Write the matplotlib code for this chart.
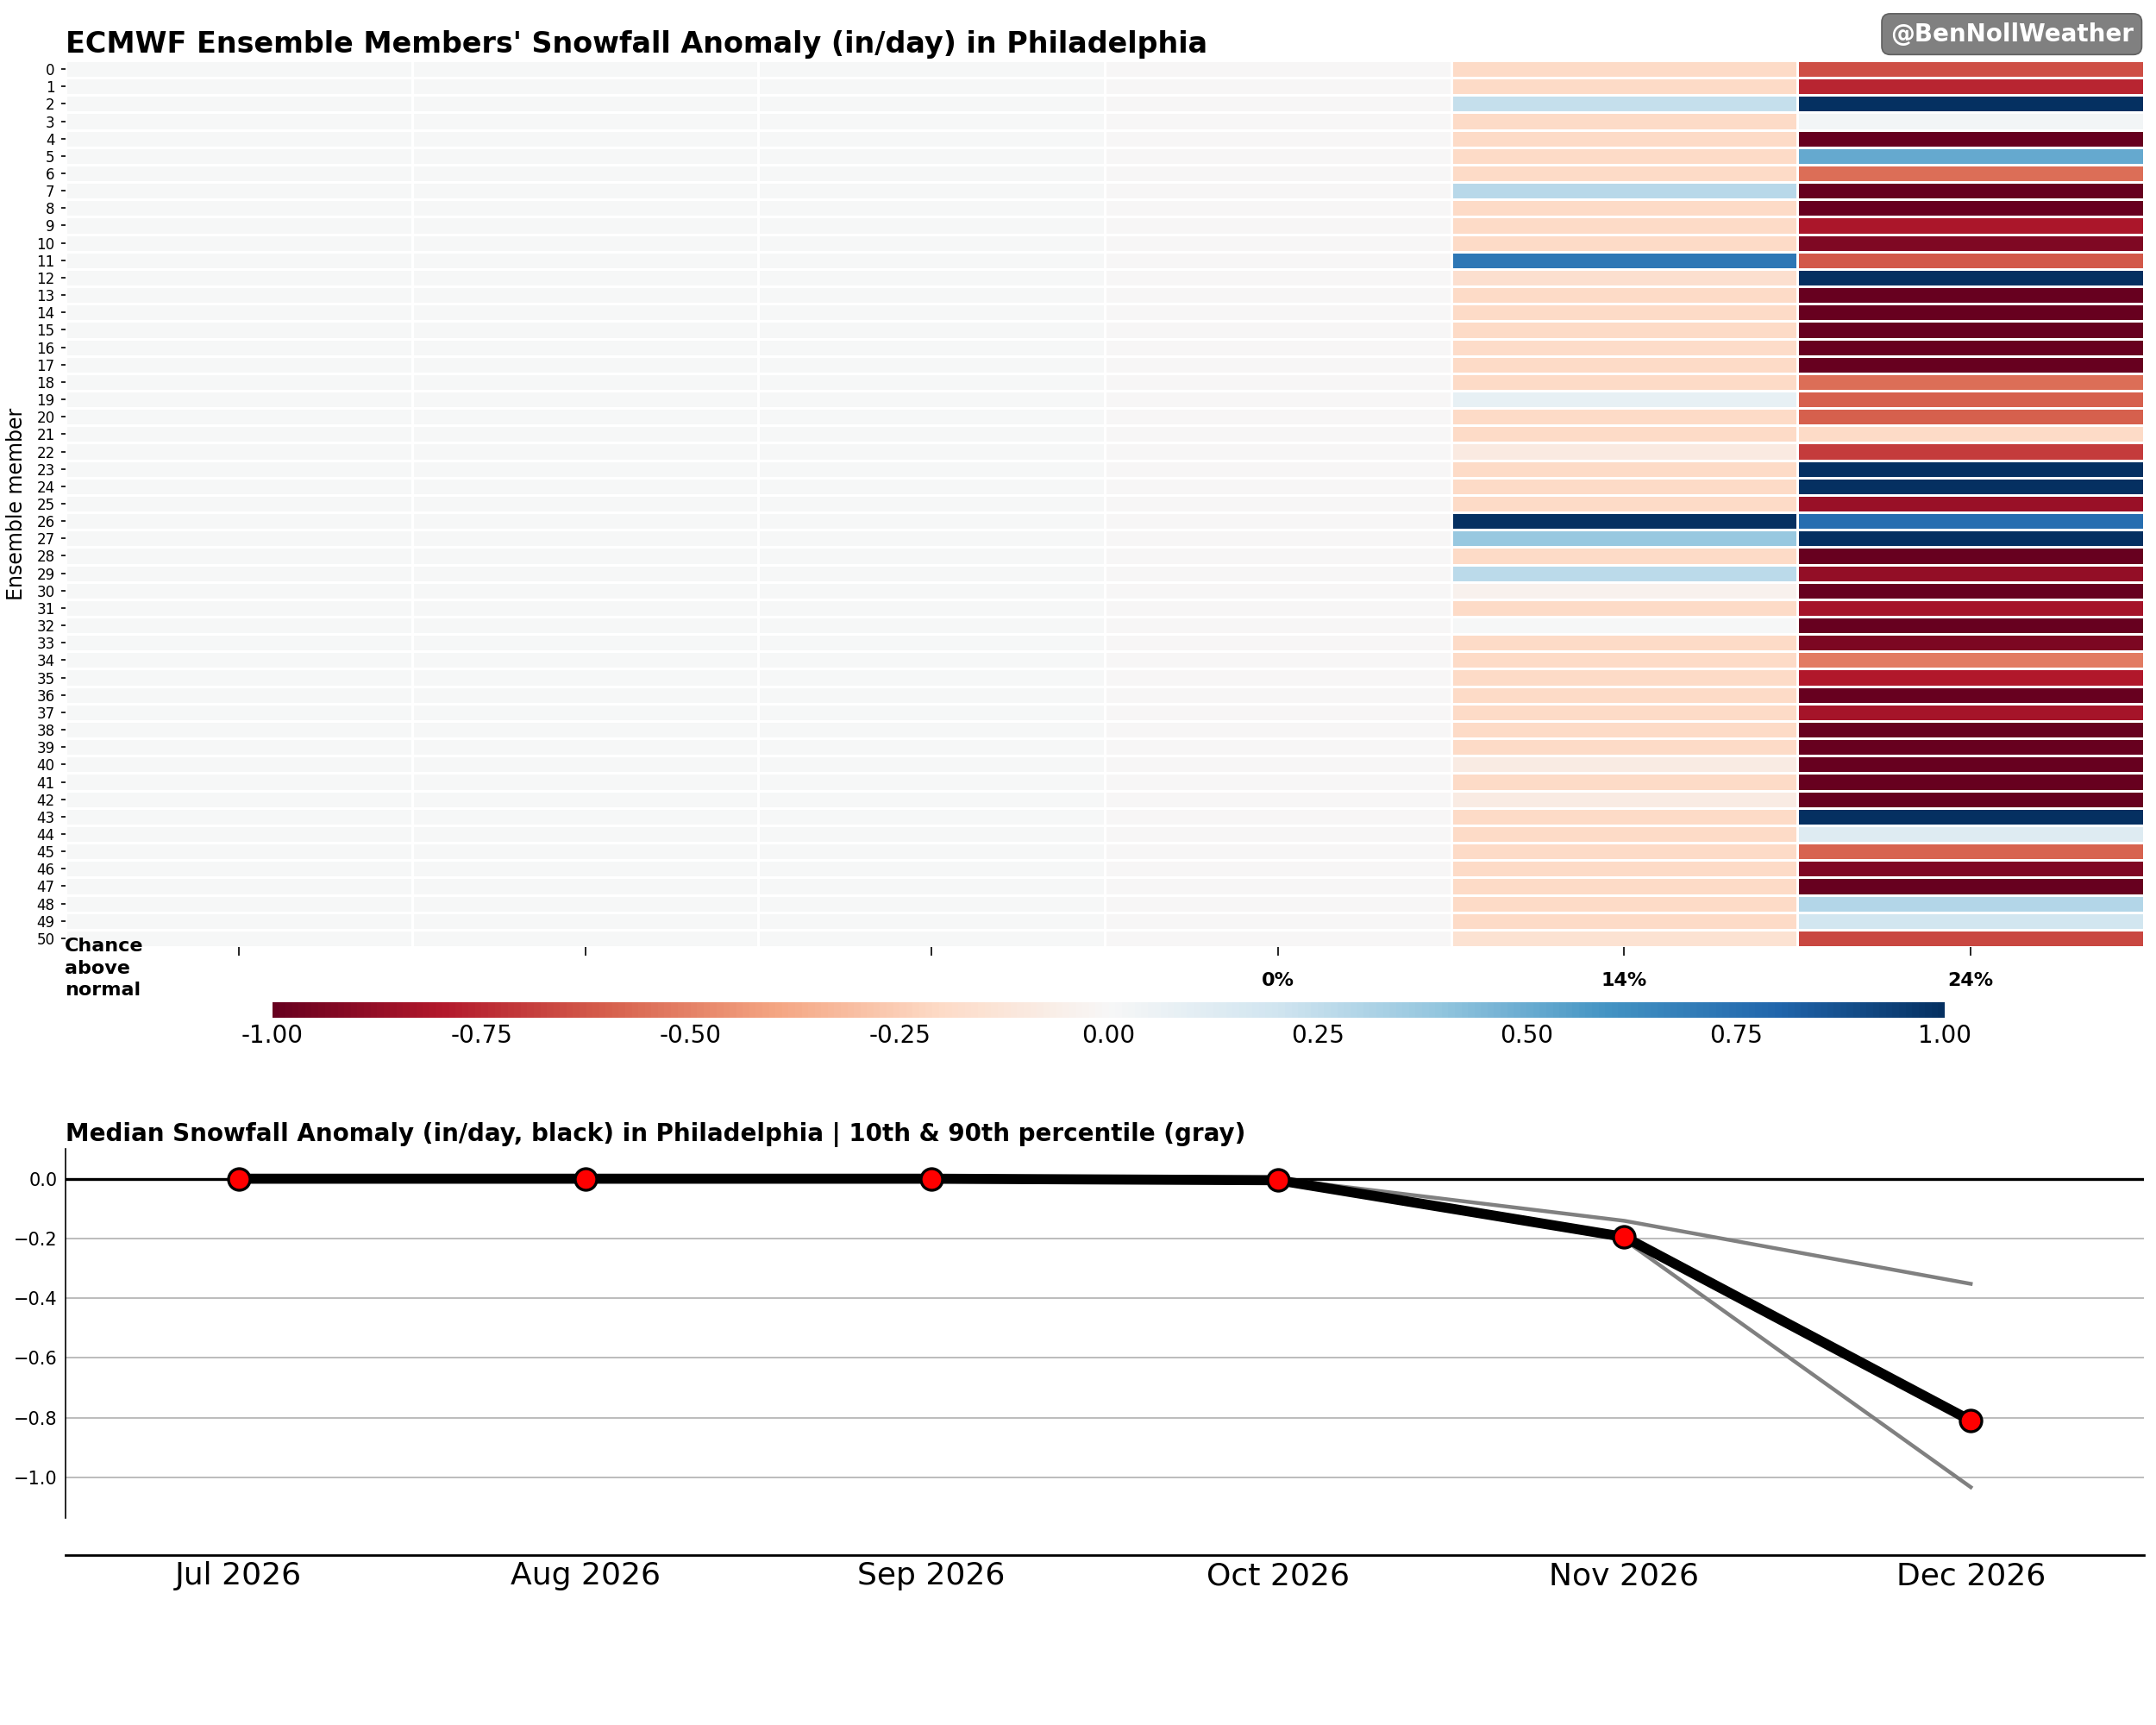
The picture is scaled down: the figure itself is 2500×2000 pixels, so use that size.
import numpy as np
import matplotlib
matplotlib.use("Agg")
from matplotlib import pyplot as plt

# months shown on both panels
months = ['Jul 2026', 'Aug 2026', 'Sep 2026', 'Oct 2026', 'Nov 2026', 'Dec 2026']
chance_labels = ['', '', '', '0%', '14%', '24%']

# snowfall anomaly (in/day) per ensemble member, Nov and Dec (Jul-Oct ~ 0)
nov = [-0.2, -0.2, 0.24, -0.2, -0.2, -0.2, -0.2, 0.28, -0.2, -0.2,
       -0.2, 0.72, -0.17, -0.2, -0.2, -0.2, -0.19, -0.2, -0.2, 0.08,
       -0.2, -0.2, -0.09, -0.2, -0.2, -0.2, 1.0, 0.38, -0.2, 0.27,
       -0.04, -0.2, 0.0, -0.2, -0.2, -0.2, -0.2, -0.2, -0.2, -0.2,
       -0.08, -0.2, -0.08, -0.2, -0.2, -0.2, -0.2, -0.2, -0.2, -0.2,
       -0.15]
dec = [-0.645, -0.76, 1.0, 0.03, -1.0, 0.51, -0.555, -1.0, -1.0, -0.82,
       -0.935, -0.62, 1.0, -1.0, -1.0, -1.0, -1.0, -1.0, -0.555, -0.6,
       -0.6, -0.2, -0.7, 1.0, 1.0, -0.86, 0.76, 1.0, -1.0, -0.88,
       -1.0, -0.83, -1.0, -0.94, -0.52, -0.8, -1.0, -0.83, -1.0, -1.0,
       -1.0, -1.0, -1.0, 1.0, 0.13, -0.59, -0.93, -1.0, 0.29, 0.19,
       -0.67]
jul = [0.0] * 51
aug = [0.0] * 51
sep = [0.0] * 51
octo = [-0.005] * 51

# median and 10th / 90th percentile
median = [0.0, 0.0, 0.0, -0.005, -0.195, -0.81]
p90 = [0.0, 0.0, 0.0, 0.0, -0.141, -0.352]
p10 = [0.0, 0.0, 0.0, -0.005, -0.205, -1.033]

data = np.array([jul, aug, sep, octo, nov, dec]).T
members = np.arange(data.shape[0])
x = np.arange(len(months))

fig = plt.figure(figsize=(12.5, 10), dpi=200)

# heatmap
ax = fig.add_axes([0.0304, 0.451, 0.964, 0.514])
mesh = ax.pcolormesh(np.arange(len(months) + 1) - 0.5, np.arange(len(members) + 1) - 0.5, data,
                     cmap='RdBu', vmin=-1, vmax=1, edgecolors='white', linewidth=0.5)
ax.set_xlim(-0.5, len(months) - 0.5)
ax.set_ylim(len(members) - 0.5, -0.5)
for s in ax.spines.values():
    s.set_visible(False)
ax.set_yticks(members)
ax.set_yticklabels([str(m) for m in members], fontsize=6)
ax.tick_params(axis='y', length=1.7, width=0.6, pad=2.8)
ax.set_xticks(x)
ax.set_xticklabels(chance_labels, fontsize=8, fontweight='bold')
ax.tick_params(axis='x', length=3.5, width=0.6, pad=7)
ax.set_ylabel('Ensemble member', fontsize=8.5)
ax.set_title("ECMWF Ensemble Members' Snowfall Anomaly (in/day) in Philadelphia",
             loc='left', fontsize=12, fontweight='bold', pad=3.2)

fig.text(0.03, 0.4565, 'Chance\nabove\nnormal', ha='left', va='top',
         fontsize=8, fontweight='bold', linespacing=1.35)

fig.text(0.9895, 0.9802, '@BenNollWeather', ha='right', va='center', color='white',
         fontsize=10, fontweight='bold',
         bbox=dict(boxstyle='round,pad=0.35', facecolor='gray', edgecolor='#606060', linewidth=0.6))

cax = fig.add_axes([0.1264, 0.41, 0.7756, 0.009])
cb = fig.colorbar(mesh, cax=cax, orientation='horizontal')
cb.outline.set_visible(False)
cb.set_ticks(np.arange(-1, 1.01, 0.25))
cb.ax.xaxis.set_major_formatter(matplotlib.ticker.FormatStrFormatter('%.2f'))
cb.ax.tick_params(labelsize=10, length=0, pad=2.5)

# median line chart
ax2 = fig.add_axes([0.0304, 0.12, 0.964, 0.214])
ax2.spines['top'].set_visible(False)
ax2.spines['right'].set_visible(False)
ax2.spines['left'].set_linewidth(0.6)
ax2.spines['bottom'].set_linewidth(1.0)
ax2.spines['bottom'].set_position(('outward', 15.5))
ax2.set_axisbelow(True)
ax2.yaxis.grid(True, color='#b0b0b0', linewidth=0.6)
ax2.axhline(0, color='black', linewidth=1.2, zorder=1)
ax2.plot(x, p90, color='gray', linewidth=1.6, zorder=2)
ax2.plot(x, p10, color='gray', linewidth=1.6, zorder=2)
ax2.plot(x, median, color='black', linewidth=4.2, zorder=3,
         marker='o', markersize=9, markerfacecolor='red', markeredgecolor='black', markeredgewidth=1.2)
ax2.set_xlim(-0.5, len(months) - 0.5)
ax2.set_ylim(1.1 * min(p10), 0.1)
ax2.set_yticks(np.arange(-1.0, 0.01, 0.2))
ax2.set_xticks(x)
ax2.set_xticklabels(months)
ax2.tick_params(axis='y', length=0, labelsize=7.5)
ax2.tick_params(axis='x', length=0, pad=2.5, labelsize=13)
ax2.set_title('Median Snowfall Anomaly (in/day, black) in Philadelphia | 10th & 90th percentile (gray)',
              loc='left', fontsize=10, fontweight='bold', pad=3.2)

fig.savefig('out.png', dpi=200)
